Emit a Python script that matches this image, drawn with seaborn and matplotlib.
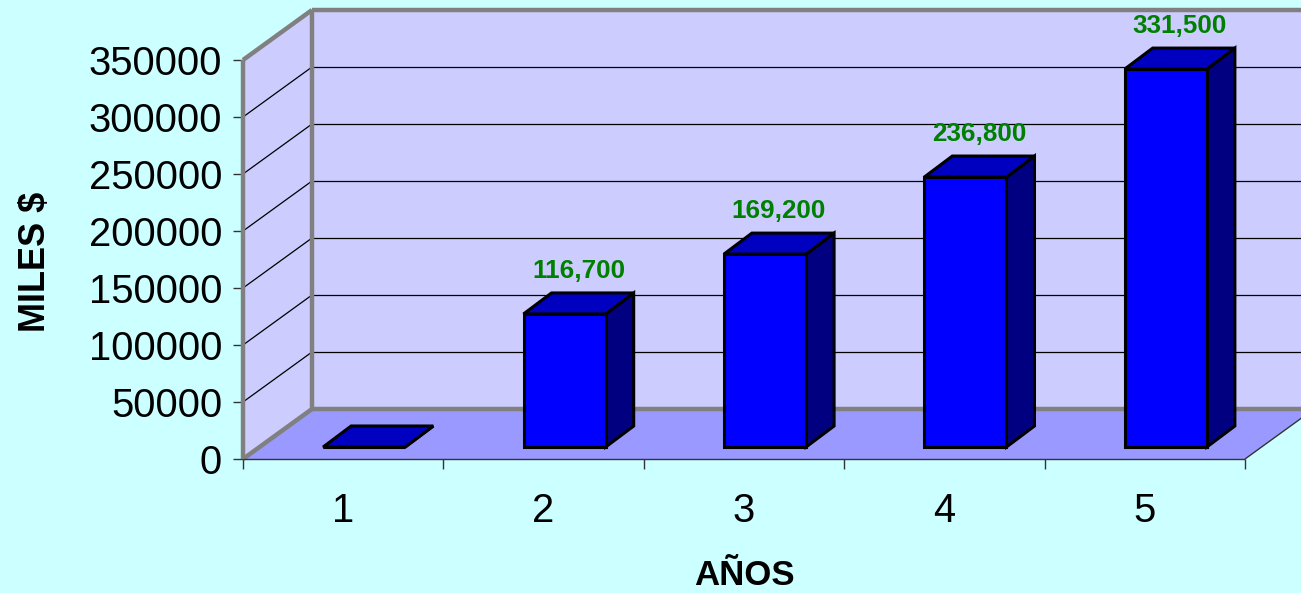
import numpy as np
import pandas as pd
import matplotlib
matplotlib.use('Agg')
import matplotlib.pyplot as plt
import matplotlib.transforms as mtransforms
from matplotlib.patches import Polygon
from matplotlib.lines import Line2D
import seaborn as sns

# ---------------- data ----------------
years = ['1', '2', '3', '4', '5']
values = [0, 116700, 169200, 236800, 331500]
value_labels = ['', '116,700', '169,200', '236,800', '331,500']
y_ticks = [0, 50000, 100000, 150000, 200000, 250000, 300000, 350000]
x_title = 'AÑOS'
y_title = 'MILES $'

# ---------------- style ----------------
sns.set_theme(style='white')
plt.rcParams['font.family'] = ['Liberation Sans', 'DejaVu Sans']

BG = '#CCFFFF'
WALL = '#CCCCFF'
FLOOR = '#9999FF'
FRAME = '#808080'
FRONT = '#0000FF'
TOP = '#0000C0'
SIDE = '#000080'
LABEL_GREEN = '#008000'

DPI = 100
W, H = 1301, 593
fig = plt.figure(figsize=(W / DPI, H / DPI), dpi=DPI, facecolor=BG)

# front plane of the 3D box (pixel edges, origin top-left)
L, R, B, T = 243, 1245, 459, 60
ax = fig.add_axes([L / W, (H - B) / H, (R - L) / W, (B - T) / H])
ax.patch.set_visible(False)

DEPTH = np.array([69.0, 50.0])      # full box depth in pixels
BAR_FRONT = np.array([21.0, 12.0])  # bar front face offset
BAR_DEPTH = np.array([28.0, 21.0])  # bar depth
LABEL_GAP = 22.0                    # label centre above the bar's back top edge

df = pd.DataFrame({'year': years, 'value': values})
sns.barplot(data=df, x='year', y='value', ax=ax, width=0.41, color=FRONT,
            saturation=1, edgecolor='black', linewidth=2.2, zorder=6)
bars = list(ax.patches)

ax.set_xlim(-0.5, len(years) - 0.5)
ax.set_ylim(0, y_ticks[-1])
xmin, xmax = ax.get_xlim()
ymax = y_ticks[-1]


def P(x, y, d=0.0, extra=(0.0, 0.0)):
    p = ax.transData.transform((x, y))
    return p + d * DEPTH + np.array(extra)


ident = mtransforms.IdentityTransform()


def poly(pts, fc, zorder, ec='none', lw=0):
    ax.add_patch(Polygon(np.array(pts), closed=True, facecolor=fc, edgecolor=ec,
                         linewidth=lw, transform=ident, clip_on=False,
                         zorder=zorder, joinstyle='miter'))


def line(p1, p2, color, lw, zorder):
    ax.add_line(Line2D([p1[0], p2[0]], [p1[1], p2[1]], color=color, linewidth=lw,
                       transform=ident, clip_on=False, zorder=zorder,
                       solid_capstyle='butt'))


# walls and floor
poly([P(xmin, 0, 1), P(xmax, 0, 1), P(xmax, ymax, 1), P(xmin, ymax, 1)], WALL, 0.5)
poly([P(xmin, 0, 0), P(xmin, 0, 1), P(xmin, ymax, 1), P(xmin, ymax, 0)], WALL, 0.5)
poly([P(xmin, 0, 0), P(xmax, 0, 0), P(xmax, 0, 1), P(xmin, 0, 1)], FLOOR, 0.6)

# gridlines
for v in y_ticks[1:-1]:
    line(P(xmin, v, 1), P(xmax, v, 1), 'black', 0.9, 1)
    line(P(xmin, v, 0), P(xmin, v, 1), 'black', 0.9, 1)

# grey frame
fw = 3.2
line(P(xmin, 0, 0), P(xmin, ymax, 0), FRAME, fw, 2)
line(P(xmin, ymax, 0), P(xmin, ymax, 1), FRAME, fw, 2)
line(P(xmin, 0, 0), P(xmin, 0, 1), FRAME, fw, 2)
line(P(xmin, 0, 1), P(xmin, ymax, 1), FRAME, fw, 2)
line(P(xmin, ymax, 1), P(xmax, ymax, 1), FRAME, fw, 2)
line(P(xmin, 0, 1), P(xmax, 0, 1), FRAME, fw, 2)
line(P(xmax, 0, 1), P(xmax, ymax, 1), FRAME, fw, 2)

# floor front edges
line(P(xmin, 0, 0), P(xmax, 0, 0), '#333333', 1.0, 2.5)
line(P(xmax, 0, 0), P(xmax, 0, 1), '#333333', 1.0, 2.5)

# 3D bars: shift seaborn's front faces and add top & side faces
front_tr = mtransforms.offset_copy(ax.transData, fig=fig, x=BAR_FRONT[0],
                                   y=BAR_FRONT[1], units='dots')
for p, lab in zip(bars, value_labels):
    p.set_transform(front_tr)
    p.set_clip_on(False)
    x0, w, h = p.get_x(), p.get_width(), p.get_height()
    fb = BAR_FRONT
    bb = BAR_FRONT + BAR_DEPTH
    side = [P(x0 + w, 0, 0, fb), P(x0 + w, h, 0, fb), P(x0 + w, h, 0, bb), P(x0 + w, 0, 0, bb)]
    top = [P(x0, h, 0, fb), P(x0 + w, h, 0, fb), P(x0 + w, h, 0, bb), P(x0, h, 0, bb)]
    poly(side, SIDE, 5, ec='black', lw=2.2)
    poly(top, TOP, 5.5, ec='black', lw=2.2)
    if lab:
        off = np.array([fb[0] + BAR_DEPTH[0] / 2, bb[1] + LABEL_GAP])
        pos = P(x0 + w / 2, h, 0, off)
        ax.text(pos[0], pos[1], lab, transform=ident, ha='center', va='center',
                color=LABEL_GREEN, fontsize=18.7, fontweight='bold', zorder=8,
                clip_on=False)

# axes / ticks
for s in ax.spines.values():
    s.set_visible(False)
ax.set_yticks(y_ticks)
ax.set_yticklabels([str(v) for v in y_ticks])
ax.set_xticks(range(len(years)))
ax.set_xticklabels(years)
ax.set_xticks(np.arange(xmin, xmax + 0.01, 1.0), minor=True)
ax.tick_params(axis='y', which='major', left=True, direction='out', length=7,
               width=1, color='#333333', labelsize=28.8, pad=8, labelcolor='black')
ax.tick_params(axis='x', which='major', bottom=True, length=0, labelsize=28.8,
               pad=24, labelcolor='black')
ax.tick_params(axis='x', which='minor', bottom=True, direction='out', length=7,
               width=1, color='#333333')
ax.grid(False)

ax.set_xlabel(x_title, fontsize=25, fontweight='bold', color='black')
ax.set_ylabel(y_title, fontsize=26, fontweight='bold', color='black')
ax.xaxis.label.set_va('baseline')
ax.xaxis.set_label_coords(0.5, (B - 585) / (B - T))
ax.yaxis.label.set_va('center')
ax.yaxis.set_label_coords((35 - L) / (R - L), (B - 262) / (B - T))

fig.savefig('out.png', dpi=DPI, facecolor=BG)
